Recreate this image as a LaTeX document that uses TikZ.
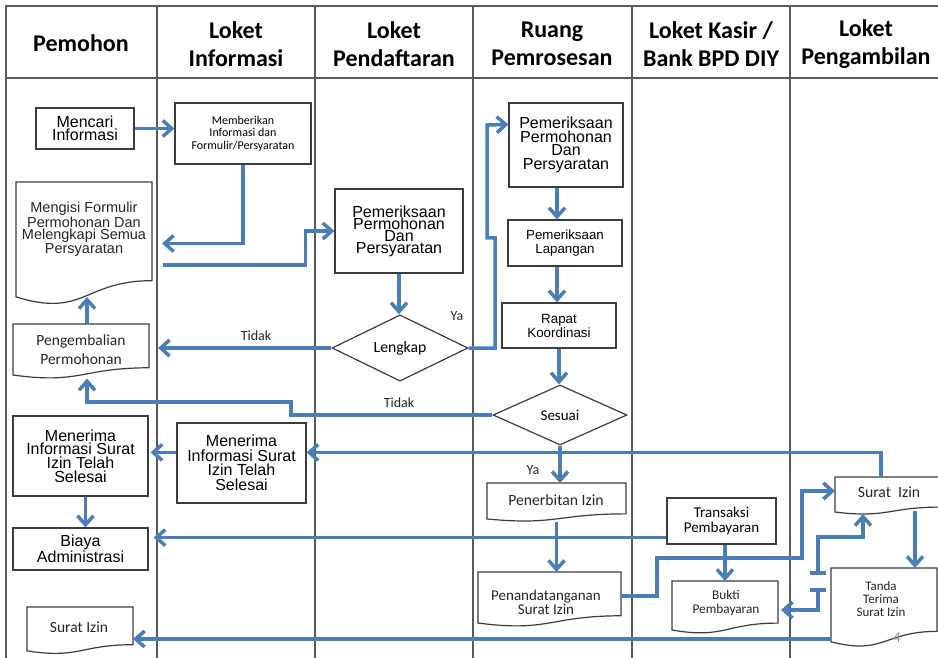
\documentclass[tikz,border=0pt]{standalone}
\usepackage{fontspec}
\setmainfont{Liberation Sans}
\newfontfamily\calfont{Carlito}
\usetikzlibrary{arrows.meta,calc,shapes.geometric}

\definecolor{flowblue}{HTML}{4A7EBB}
\definecolor{gridgray}{HTML}{5A5A5A}
\definecolor{boxgray}{HTML}{3C3C3C}

\newcommand{\fA}[2]{\fontsize{#1}{#2}\selectfont}
\newcommand{\fC}[2]{\calfont\fontsize{#1}{#2}\selectfont}

\tikzset{
  flow/.style={draw=flowblue, line width=3.5pt, -{Straight Barb[length=9pt,width=16pt]}},
  plainflow/.style={draw=flowblue, line width=3.5pt},
  box/.style={draw=boxgray, line width=1.2pt, inner sep=0pt, align=center},
  docframe/.style={inner sep=0pt, outer sep=0pt},
  docline/.style={draw=boxgray, line width=1.2pt},
  dec/.style={diamond, draw=boxgray, line width=1.2pt, inner sep=0pt},
  txt/.style={align=center, inner sep=0pt, text=black!85},
  lbl/.style={inner sep=0pt, font=\fC{14}{16}, text=black!85},
  head/.style={font=\calfont\bfseries\fontsize{24}{28}\selectfont, align=center, inner sep=0pt},
  lane/.style={draw=gridgray, line width=1.5pt},
}

\newcommand{\docshape}[5]{%
  \node[docframe, minimum width=#4, minimum height=#5, anchor=north west] (#1) at (#2,#3) {};
  \draw[docline] (#1.north west) -- (#1.north east) -- ($(#1.north east)+(0,0.802*#5)$)
    .. controls ($(#1.north)+(0,0.802*#5)$) and ($(#1.north)+(0,1.107*#5)$) ..
    ($(#1.north west)+(0,0.934*#5)$) -- cycle;
}

\begin{document}
\begin{tikzpicture}[x=1pt,y=-1pt]
\useasboundingbox (0,0) rectangle (938,658);
\clip (0,0) rectangle (938,658);
\fill[white] (0,0) rectangle (938,658);

% lanes
\draw[lane] (6,660) -- (6,6) -- (945,6);
\draw[lane] (6,78) -- (945,78);
\foreach \lx in {157,315,473,632,790} {\draw[lane] (\lx,6) -- (\lx,660);}

% headers
\node[head] (h1) at (81,43) {Pemohon};
\node[head] (h2) at (236,44) {Loket\\Informasi};
\node[head] (h3) at (394,44) {Loket\\Pendaftaran};
\node[head] (h4) at (552,44) {Ruang\\Pemrosesan};
\node[head] (h5) at (711,44) {Loket Kasir /\\Bank BPD DIY};
\node[head] (h6) at (866,44) {Loket\\Pengambilan};

% Pemohon column
\node[box, minimum width=98, minimum height=41, font=\fA{16}{13}] (mencari) at (85,128.5) {Mencari\\Informasi};
\docshape{mengisi}{16}{182}{136}{123}
\node[txt, font=\fA{14.5}{12}] (mengisit) at (84,229.5) {Mengisi Formulir\\Permohonan Dan\\Melengkapi Semua\\Persyaratan};
\docshape{peng}{13}{324}{136}{54.6}
\node[txt, font=\fC{15.5}{19}] (pengt) at (81,350) {Pengembalian\\Permohonan};
\node[box, minimum width=135, minimum height=80, font=\fA{16}{13.7}] (menp) at (80.5,456) {Menerima\\Informasi Surat\\Izin Telah\\Selesai};
\node[box, minimum width=135, minimum height=42, font=\fA{16}{14}] (biaya) at (80.5,549) {Biaya\\Administrasi};
\docshape{sip}{27}{607}{106}{47}
\node[txt, font=\fC{15.5}{18}] (sipt) at (79,627) {Surat Izin};

% Loket Informasi
\node[box, minimum width=136, minimum height=61, font=\fC{12}{12.5}] (memberi) at (243,133.5) {Memberikan\\Informasi dan\\Formulir/Persyaratan};
\node[box, minimum width=129, minimum height=80, font=\fA{16}{14.5}] (meni) at (241.5,463) {Menerima\\Informasi Surat\\Izin Telah\\Selesai};

% Loket Pendaftaran
\node[box, minimum width=128, minimum height=84, font=\fA{16}{12}] (pemp) at (399,231) {Pemeriksaan\\Permohonan\\Dan\\Persyaratan};
\node[dec, minimum width=136, minimum height=60, font=\fC{15.7}{18}] (lengkap) at (400,348) {Lengkap};

% Ruang Pemrosesan
\node[box, minimum width=114, minimum height=84, font=\fA{16}{13.5}] (pemr) at (566,145) {Pemeriksaan\\Permohonan\\Dan\\Persyaratan};
\node[box, minimum width=114, minimum height=46, font=\fA{13.3}{14}] (lap) at (565,243) {Pemeriksaan\\Lapangan};
\node[box, minimum width=114, minimum height=45, font=\fA{13.4}{14}] (rapat) at (559,325.5) {Rapat\\Koordinasi};
\node[dec, minimum width=134, minimum height=60, font=\fC{15}{18}] (sesuai) at (560,415) {Sesuai};
\docshape{pen}{487}{483}{139}{38.5}
\node[txt, font=\fC{15.7}{18}] (pent) at (556,500) {Penerbitan Izin};
\docshape{pnd}{478}{572}{143}{54.6}
\node[txt, font=\fC{15}{13.5}] (pndt) at (546,602.5) {Penandatanganan\\Surat Izin};

% Loket Kasir
\node[box, minimum width=109, minimum height=46, font=\fC{15}{15}] (trans) at (721.5,521) {Transaksi\\Pembayaran};
\docshape{bukti}{672}{581}{106}{52.5}
\node[txt, font=\fC{13.3}{14}] (buktit) at (726,603) {Bukti\\Pembayaran};

% Loket Pengambilan
\docshape{sir}{835}{477}{106}{37.5}
\node[txt, font=\fC{15.7}{18}] (sirt) at (889,492) {Surat\ \ Izin};
\docshape{tanda}{831}{568}{106}{79}
\node[txt, font=\fC{13}{13}] (tandat) at (881,599) {Tanda\\Terima\\Surat Izin};
\node[inner sep=0pt, font=\fC{15}{15}, text=black!40] (pagenum) at (897,638) {4};

% connectors
\draw[flow] (mencari.east) -- (mencari.east -| memberi.west);
\draw[flow, shorten >=10pt] (memberi.south) |- (mengisi.east);
\draw[flow] ($(mengisi.east)+(11,21.5)$) -| ($(pemp.west)+(-29,0)$) -- (pemp.west);
\draw[flow] (pemp.south) -- (pemp.south |- lengkap.north);
\draw[flow] (lengkap.west) -- ($(lengkap.west -| peng.east)+(9,0)$);
\node[lbl] (tidak1) at (256,336) {Tidak};
\draw[flow] (lengkap.east) -| (495,238) -| (487,125) -- ($(pemr.north west)+(0,22)$);
\node[lbl] (ya1) at (457,316) {Ya};
\draw[flow] ([xshift=-9pt]pemr.south) -- ([xshift=-9pt]pemr.south |- lap.north);
\draw[flow] ([xshift=-8pt]lap.south) -- ([xshift=-8pt]lap.south |- rapat.north);
\draw[flow] (rapat.south) -- (rapat.south |- sesuai.north);
\draw[flow] (sesuai.west) -| (291,402) -| ($(peng.south)+(6,0)$);
\node[lbl] (tidak2) at (399,403) {Tidak};
\draw[flow] ($(peng.north)+(6,0)$) -- ($(mengisi.north west)+(71,115)$);
\draw[flow] (sesuai.south) -- (sesuai.south |- pen.north);
\node[lbl] (ya2) at (533,470) {Ya};
\draw[flow] (pen.south) -- (pen.south |- pnd.north);
\coordinate (tp) at ($(trans.south west)+(0,-7)$);
\draw[flow] (tp) -- ($(tp -| biaya.east)+(5,0)$);
\draw[flow] (bukti.north |- trans.south) -- (bukti.north);
\draw[flow] ($(pnd.north east)+(0,24)$) -| (657,558) -| (802,491) -- ($(sir.north west)+(0,14)$);
\coordinate (b1) at (818,573);
\coordinate (b2) at (818,590);
\draw[flow] (b1) |- (863,537) -- ($(sir.north west)+(28,37)$);
\draw[flow] (b2) |- ($(bukti.north east)+(3,29)$);
\draw[plainflow] ($(b1)+(-8,0)$) -- ($(b1)+(8,0)$);
\draw[plainflow] ($(b2)+(-8,0)$) -- ($(b2)+(8,0)$);
\draw[flow] ($(sir.north west)+(46,0)$) |- ($(meni.north east)+(0,30)$);
\draw[flow] ($(meni.north west)+(0,30)$) -- ($(menp.north east)+(2,37)$);
\draw[flow] ([xshift=5pt]menp.south) -- ([xshift=5pt]biaya.north);
\draw[flow] ($(tanda.north west)+(0,71)$) -- ($(sip.north east)+(0,32)$);
\draw[flow] ($(sir.north west)+(80,34)$) -- ($(tanda.north west)+(84,0)$);
\end{tikzpicture}
\end{document}
